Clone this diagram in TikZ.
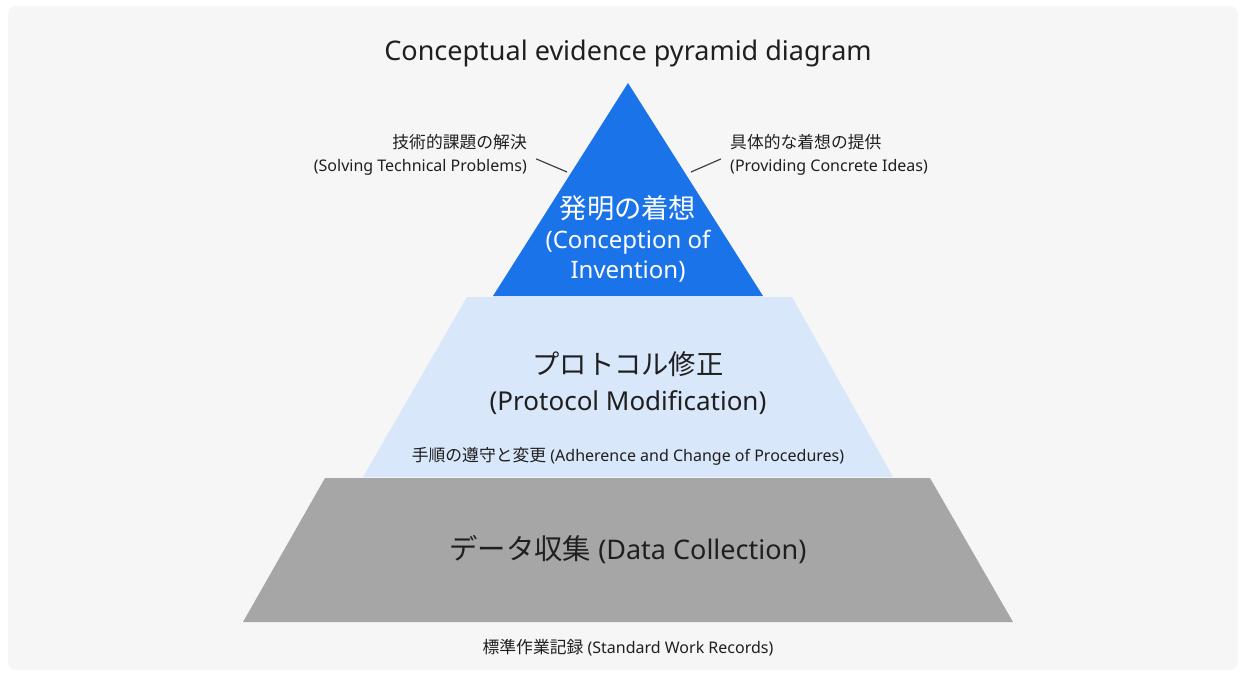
\documentclass[tikz,border=0pt]{standalone}
\usepackage{fontspec}
\setmainfont{Noto Sans}
\newfontfamily\jp[Scale=1.05]{Noto Sans CJK JP}
\usetikzlibrary{positioning}
\definecolor{inkblue}{HTML}{1A73E8}
\definecolor{paleblue}{HTML}{D8E7FA}
\definecolor{slab}{HTML}{A6A6A6}
\definecolor{ink}{HTML}{1F1F1F}
\definecolor{paper}{HTML}{F6F6F6}
\tikzset{
  heading/.style = {font=\fontsize{27}{30}\selectfont, text=ink, inner sep=0pt},
  tierlabel/.style = {font=\fontsize{26}{36}\selectfont, text=ink, align=center, inner sep=0pt},
  toplabel/.style = {font=\fontsize{24}{30}\selectfont, text=white, align=center, inner sep=0pt},
  note/.style = {font=\fontsize{16}{23}\selectfont, text=ink, inner sep=0pt},
  leader/.style = {draw=ink!85, line width=1.2pt}
}

\begin{document}
\begin{tikzpicture}[x=1pt,y=-1pt]
  \useasboundingbox (0,0) rectangle (1245,677);
  \fill[paper, rounded corners=8pt] (8,6) rectangle (1238,670);

  % the three tiers, base first
  \fill[slab] (325,478) -- (930,478) -- (1013,622) -- (243,622) -- cycle;
  \fill[paleblue] (467,297) -- (792,297) -- (893,477) -- (363,477) -- cycle;
  \fill[inkblue] (628,83) -- (763,296) -- (493,296) -- cycle;

  \node[heading] (title) at (628,53) {Conceptual evidence pyramid diagram};

  \node[toplabel] (apex) at (628,239) {{\fontsize{26}{30}\selectfont\jp 発明の着想}\\(Conception of\\Invention)};
  \node[tierlabel] (proto) at (628,383) {{\jp プロトコル修正}\\(Protocol Modification)};
  \node[note] (proc) at (628,456) {{\jp 手順の遵守と変更} (Adherence and Change of Procedures)};
  \node[tierlabel, font=\fontsize{27}{36}\selectfont] (data) at (628,550) {{\jp データ収集} (Data Collection)};
  \node[note] (records) at (628,648) {{\jp 標準作業記録} (Standard Work Records)};

  % side notes with leader lines to the apex
  \node[note, align=right, anchor=east] (solve) at (527,155) {{\jp 技術的課題の解決}\\(Solving Technical Problems)};
  \node[note, align=left, anchor=west] (ideas) at (730,155) {{\jp 具体的な着想の提供}\\(Providing Concrete Ideas)};
  \coordinate (solve-end) at (567,172);
  \coordinate (ideas-end) at (691,172);
  \draw[leader, shorten <=10pt] (solve.east) -- (solve-end);
  \draw[leader, shorten <=10pt] (ideas.west) -- (ideas-end);
\end{tikzpicture}
\end{document}
